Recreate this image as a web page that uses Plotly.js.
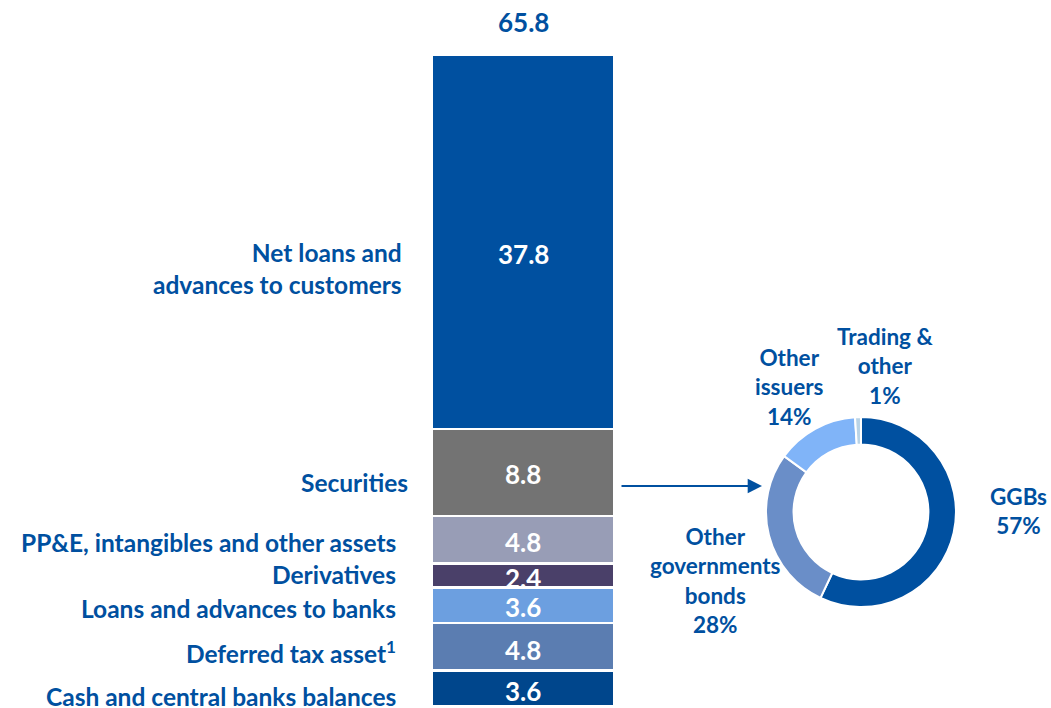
<!DOCTYPE html>
<html>
<head>
<meta charset="utf-8">
<script src="https://cdn.plot.ly/plotly-3.0.1.min.js"></script>
<style>html,body{margin:0;padding:0;background:#fff;}#chart{width:1051px;height:708px;}</style>
</head>
<body>
<div id="chart"></div>
<script>
// Stacked bar (bottom to top)
const barCategories = [
  "Cash and central banks balances",
  "Deferred tax asset<sup>1</sup>",
  "Loans and advances to banks",
  "Derivatives",
  "PP&E, intangibles and other assets",
  "Securities",
  "Net loans and<br>advances to customers"
];
const barValues = [3.6, 4.8, 3.6, 2.4, 4.8, 8.8, 37.8];
const barColors = ["#00468C", "#5B7DB1", "#6C9FE0", "#4A4069", "#989DB6", "#737373", "#0050A0"];
const barTotal = 65.8;

// Securities breakdown donut
const donutLabels = ["GGBs", "Other governments bonds", "Other issuers", "Trading & other"];
const donutValues = [57, 28, 14, 1];
const donutText = ["GGBs<br>57%", "Other<br>governments<br>bonds<br>28%", "Other<br>issuers<br>14%", "Trading &<br>other<br>1%"];
const donutColors = ["#0050A0", "#6A8EC8", "#80B4F8", "#B9D3E6"];

const FONT = "Lato, 'Open Sans', sans-serif";
const BLUE = "#0050A0";

const traces = barValues.map((v, i) => ({
  type: "bar",
  x: [0],
  y: [v],
  width: 1,
  name: barCategories[i],
  marker: {color: barColors[i], line: {color: "#ffffff", width: 2.5}},
  hoverinfo: "skip",
  showlegend: false,
  xaxis: "x",
  yaxis: "y"
}));

traces.push({
  type: "pie",
  labels: donutLabels,
  values: donutValues,
  hole: 0.71,
  sort: false,
  direction: "clockwise",
  rotation: 0,
  textinfo: "none",
  marker: {colors: donutColors, line: {color: "#ffffff", width: 2}},
  domain: {x: [0.7288, 0.9096], y: [0.1427, 0.4110]},
  showlegend: false,
  hoverinfo: "skip"
});

// left labels and values placed at segment centers
const labelShiftY = [-8, -5, -3, 1, -3, -10, -27];
const labelShiftX = [-35, -35, -35, -35, -35, -23, -29];
const valueShiftY = [-3, -3, -2, -3, -2, -1, -12];
const annotations = [];
let cum = 0;
barValues.forEach((v, i) => {
  const mid = cum + v / 2;
  cum += v;
  annotations.push({
    xref: "x", yref: "y", x: -0.5, y: mid,
    xanchor: "right", yanchor: "middle", xshift: labelShiftX[i], yshift: labelShiftY[i],
    text: barCategories[i], showarrow: false, align: "right", borderpad: 0,
    font: {family: FONT, size: 24.5, color: BLUE, weight: 700}
  });
  annotations.push({
    xref: "x", yref: "y", x: 0, y: mid,
    xanchor: "center", yanchor: "middle", yshift: valueShiftY[i],
    text: v.toFixed(1), showarrow: false,
    font: {family: FONT, size: 26, color: "#ffffff", weight: 700}
  });
});
annotations.push({
  xref: "x", yref: "y", x: 0, y: barTotal, yanchor: "bottom", yshift: 15,
  text: barTotal.toFixed(1), showarrow: false,
  font: {family: FONT, size: 26, color: BLUE, weight: 700}
});

// donut labels
const donutLabelPos = [
  {x: 1018, y: 511},
  {x: 715, y: 580},
  {x: 789, y: 387},
  {x: 885, y: 366}
];
donutText.forEach((t, i) => {
  annotations.push({
    xref: "paper", yref: "paper",
    x: donutLabelPos[i].x / 1051, y: 1 - donutLabelPos[i].y / 708,
    xanchor: "center", yanchor: "middle",
    text: t, showarrow: false, align: "center",
    font: {family: FONT, size: 22.5, color: BLUE, weight: 700}
  });
});

// arrow from bar to donut
annotations.push({
  xref: "paper", yref: "paper",
  x: 762 / 1051, y: 1 - 486 / 708,
  ax: 620 / 1051, ay: 1 - 486 / 708, axref: "paper", ayref: "paper",
  text: "", showarrow: true, arrowhead: 2, arrowsize: 1.3, arrowwidth: 2.2, arrowcolor: BLUE
});

const layout = {
  width: 1051, height: 708,
  margin: {l: 0, r: 0, t: 0, b: 0},
  paper_bgcolor: "#ffffff", plot_bgcolor: "#ffffff",
  barmode: "stack",
  xaxis: {domain: [432 / 1051, 614 / 1051], range: [-0.5, 0.5], visible: false, fixedrange: true},
  yaxis: {domain: [2 / 708, 653 / 708], range: [0, barTotal], visible: false, fixedrange: true},
  annotations: annotations,
  font: {family: FONT}
};

Plotly.newPlot("chart", traces, layout, {displayModeBar: false, staticPlot: true});
</script>
</body>
</html>
